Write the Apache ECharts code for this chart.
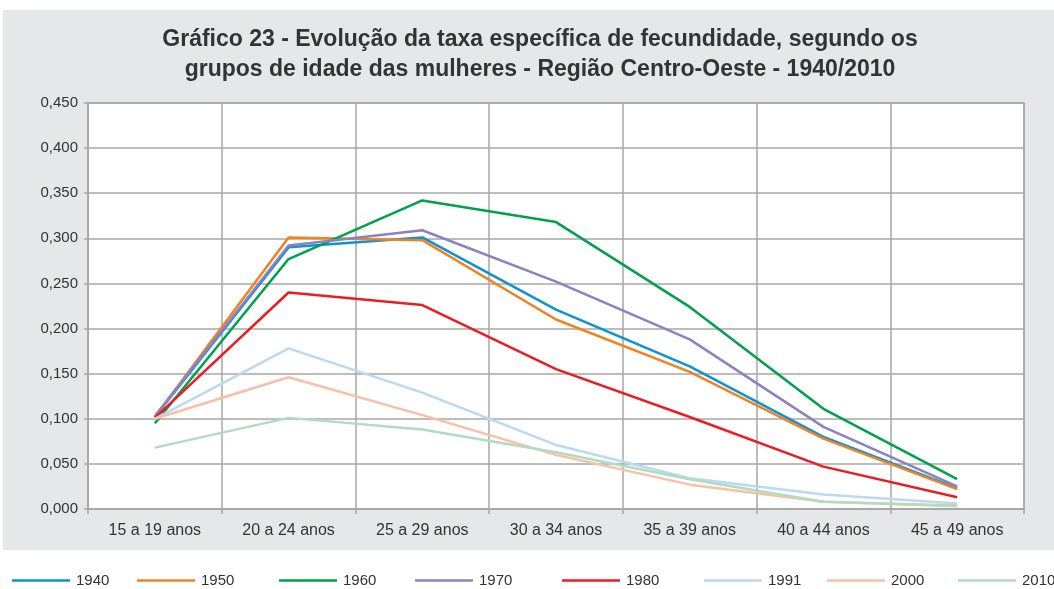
<!DOCTYPE html>
<html>
<head>
<meta charset="utf-8">
<script src="https://cdn.jsdelivr.net/npm/echarts@6/dist/echarts.min.js"></script>
<style>
  html, body { margin: 0; padding: 0; background: #fff; }
  #panel { position: absolute; left: 3px; top: 10px; width: 1051px; height: 540px; background: #e6e7e9; }
  #chart { position: absolute; left: 0; top: 0; width: 1054px; height: 589px; }
</style>
</head>
<body>
<div id="panel"></div>
<div id="chart"></div>
<script>
const ageGroups = ["15 a 19 anos", "20 a 24 anos", "25 a 29 anos", "30 a 34 anos", "35 a 39 anos", "40 a 44 anos", "45 a 49 anos"];
const years = ["1940", "1950", "1960", "1970", "1980", "1991", "2000", "2010"];

const rate1940 = [0.102, 0.290, 0.301, 0.221, 0.158, 0.080, 0.023];
const rate1950 = [0.102, 0.301, 0.298, 0.210, 0.152, 0.078, 0.022];
const rate1960 = [0.095, 0.277, 0.342, 0.318, 0.224, 0.111, 0.033];
const rate1970 = [0.103, 0.292, 0.309, 0.252, 0.188, 0.091, 0.025];
const rate1980 = [0.101, 0.240, 0.226, 0.155, 0.102, 0.047, 0.013];
const rate1991 = [0.100, 0.178, 0.129, 0.071, 0.034, 0.016, 0.006];
const rate2000 = [0.100, 0.146, 0.104, 0.060, 0.027, 0.008, 0.004];
const rate2010 = [0.068, 0.101, 0.088, 0.063, 0.033, 0.008, 0.003];

const values = [rate1940, rate1950, rate1960, rate1970, rate1980, rate1991, rate2000, rate2010];
const lineColors = ["#0a93d8", "#f2821f", "#00a14b", "#8c82c1", "#ec1c24", "#b9daf2", "#f8c0a6", "#b1dcc0"];
const legendLeft = [7, 132, 274, 410, 557, 699, 822, 953];

const font = "'Liberation Sans', Arial, sans-serif";
const gridColor = "#a7a7a9";

const chart = echarts.init(document.getElementById("chart"));
chart.setOption({
  backgroundColor: "transparent",
  animation: false,
  title: {
    text: "Gráfico 23 - Evolução da taxa específica de fecundidade, segundo os\ngrupos de idade das mulheres - Região Centro-Oeste - 1940/2010",
    left: 535,
    top: 20,
    textAlign: "center",
    textStyle: {
      color: "#333",
      fontFamily: font,
      fontWeight: "bold",
      fontSize: 23,
      lineHeight: 30,
    },
  },
  legend: years.map((y, i) => ({
    data: [y],
    left: legendLeft[i],
    top: 568,
    icon: "rect",
    itemWidth: 58,
    itemHeight: 2.5,
    itemGap: 0,
    textStyle: { color: "#333", fontFamily: font, fontSize: 15, padding: [0, 0, 0, 1] },
  })),
  grid: {
    left: 88,
    right: 30,
    top: 103,
    bottom: 80,
    show: true,
    backgroundColor: "#fff",
    borderColor: gridColor,
    borderWidth: 1.5,
  },
  xAxis: {
    type: "category",
    data: ageGroups,
    boundaryGap: true,
    axisLine: { lineStyle: { color: gridColor, width: 1.5 } },
    axisTick: { show: true, length: 5, lineStyle: { color: gridColor, width: 1.5 } },
    splitLine: { show: true, lineStyle: { color: gridColor, width: 1.5 } },
    axisLabel: { color: "#333", fontFamily: font, fontSize: 16, margin: 14 },
  },
  yAxis: {
    type: "value",
    min: 0,
    max: 0.45,
    interval: 0.05,
    axisLine: { show: true, lineStyle: { color: gridColor, width: 1.5 } },
    axisTick: { show: true, length: 4, lineStyle: { color: gridColor, width: 1.5 } },
    splitLine: { lineStyle: { color: gridColor, width: 1.5 } },
    axisLabel: {
      color: "#333",
      fontFamily: font,
      fontSize: 15,
      margin: 10,
      formatter: (v) => v.toFixed(3).replace(".", ","),
    },
  },
  series: years.map((y, i) => ({
    name: y,
    type: "line",
    data: values[i],
    symbol: "none",
    color: lineColors[i],
    lineStyle: { width: 2.5, color: lineColors[i] },
  })),
});
</script>
</body>
</html>
